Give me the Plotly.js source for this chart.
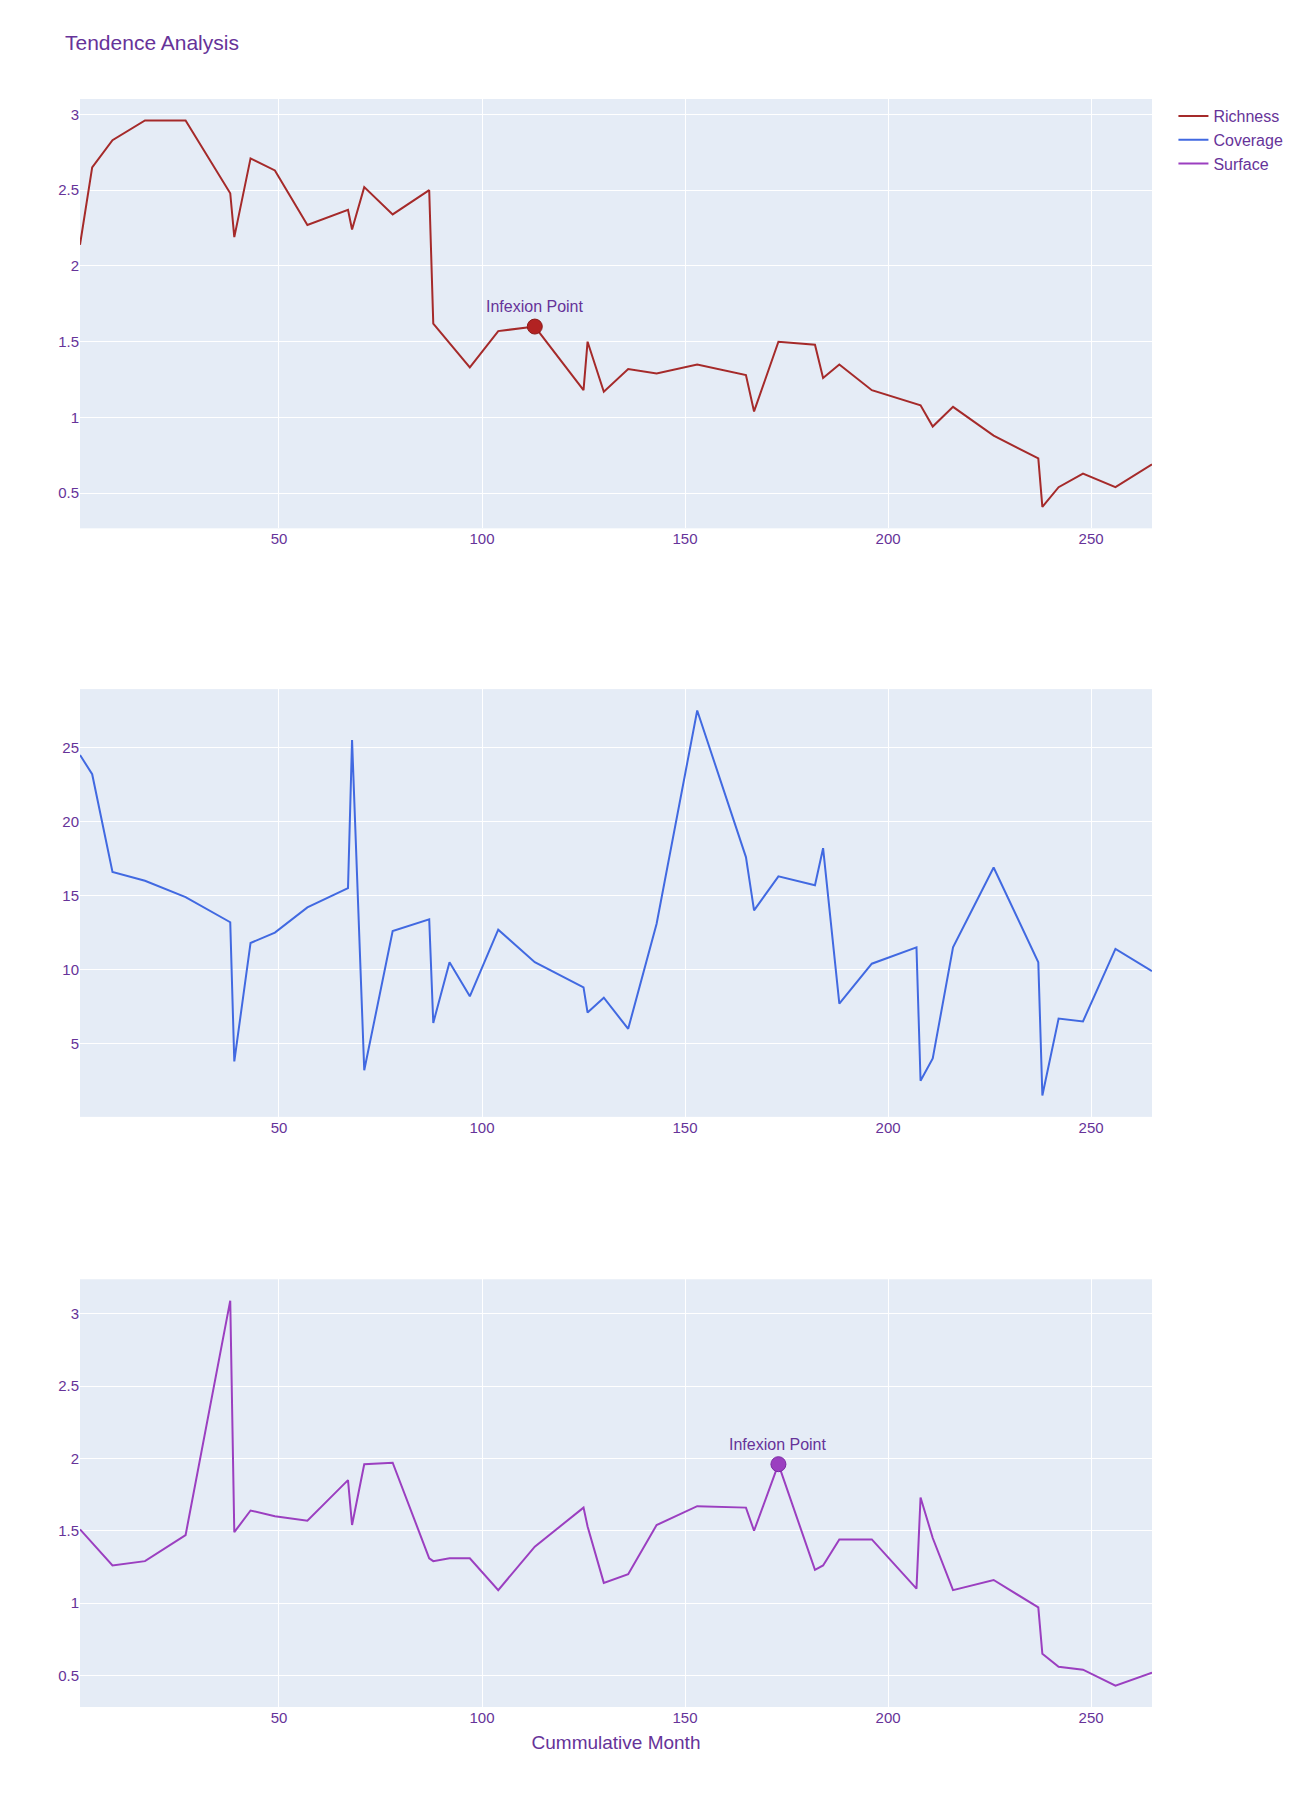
<!DOCTYPE html>
<html>
<head>
<meta charset="utf-8">
<script src="https://cdn.plot.ly/plotly-3.0.1.min.js"></script>
<style>body{margin:0;}</style>
</head>
<body>
<div id="graph" style="width:1300px;height:1800px;"></div>
<script>
// values
var richnessX = [1,4,9,17,27,38,39,43,49,57,67,68,71,78,87,88,97,104,113,125,126,130,136,143,153,165,167,173,182,184,188,196,208,211,216,226,237,238,242,248,256,265];
var richnessY = [2.14,2.65,2.83,2.96,2.96,2.48,2.19,2.71,2.63,2.27,2.37,2.24,2.52,2.34,2.50,1.62,1.33,1.57,1.60,1.18,1.50,1.17,1.32,1.29,1.35,1.28,1.04,1.50,1.48,1.26,1.35,1.18,1.08,0.94,1.07,0.88,0.73,0.41,0.54,0.63,0.54,0.69];

var coverageX = [1,4,9,17,27,38,39,43,49,57,67,68,71,78,87,88,92,97,104,113,125,126,130,136,143,153,165,167,173,182,184,188,196,207,208,211,216,226,237,238,242,248,256,265];
var coverageY = [24.5,23.2,16.6,16.0,14.9,13.2,3.8,11.8,12.5,14.2,15.5,25.5,3.2,12.6,13.4,6.4,10.5,8.2,12.7,10.5,8.8,7.1,8.1,6.0,13.1,27.5,17.6,14.0,16.3,15.7,18.2,7.7,10.4,11.5,2.5,4.0,11.5,16.9,10.5,1.5,6.7,6.5,11.4,9.9];

var surfaceX = [1,9,17,27,38,39,43,49,57,67,68,71,78,87,88,92,97,104,113,125,126,130,136,143,153,165,167,173,182,184,188,196,207,208,211,216,226,237,238,242,248,256,265];
var surfaceY = [1.51,1.26,1.29,1.47,3.09,1.49,1.64,1.60,1.57,1.85,1.54,1.96,1.97,1.31,1.29,1.31,1.31,1.09,1.39,1.66,1.53,1.14,1.20,1.54,1.67,1.66,1.50,1.96,1.23,1.26,1.44,1.44,1.10,1.73,1.45,1.09,1.16,0.97,0.65,0.56,0.54,0.43,0.52];

var infexionTop = {x: 113, y: 1.60};
var infexionBottom = {x: 173, y: 1.96};

var purple = "#663399";

var data = [
    {x: richnessX, y: richnessY, name: 'Richness', type: 'scatter', mode: 'lines',
        line: {color: '#a52a2a', width: 2}, xaxis: 'x', yaxis: 'y'},
    {x: coverageX, y: coverageY, name: 'Coverage', type: 'scatter', mode: 'lines',
        line: {color: '#4169e1', width: 2}, xaxis: 'x2', yaxis: 'y2'},
    {x: surfaceX, y: surfaceY, name: 'Surface', type: 'scatter', mode: 'lines',
        line: {color: '#9b3fc0', width: 2}, xaxis: 'x3', yaxis: 'y3'},
    {x: [infexionTop.x], y: [infexionTop.y], type: 'scatter', mode: 'markers', showlegend: false,
        marker: {color: '#b22222', size: 15, line: {color: '#8b1a1a', width: 1}}, xaxis: 'x', yaxis: 'y'},
    {x: [infexionBottom.x], y: [infexionBottom.y], type: 'scatter', mode: 'markers', showlegend: false,
        marker: {color: '#9b3fc0', size: 15, line: {color: '#7a28a3', width: 1}}, xaxis: 'x3', yaxis: 'y3'}
];

var axisFont = {color: purple, size: 15};
var layout = {
    title: {text: 'Tendence Analysis', x: 0.05, font: {size: 21, color: purple}},
    font: {family: 'Arial, Liberation Sans, sans-serif', color: purple},
    margin: {l: 80, r: 146, t: 99, b: 93},
    plot_bgcolor: '#e5ecf6',
    paper_bgcolor: '#ffffff',
    legend: {x: 1.02, y: 1, font: {size: 16, color: purple}},
    xaxis: {domain: [0, 1], anchor: 'y', tickfont: axisFont, gridcolor: '#fff'},
    yaxis: {domain: [0.733, 1], anchor: 'x', tickfont: axisFont, gridcolor: '#fff', zeroline: false},
    xaxis2: {domain: [0, 1], anchor: 'y2', tickfont: axisFont, gridcolor: '#fff'},
    yaxis2: {domain: [0.367, 0.633], anchor: 'x2', tickfont: axisFont, gridcolor: '#fff', zeroline: false},
    xaxis3: {domain: [0, 1], anchor: 'y3', tickfont: axisFont, gridcolor: '#fff',
        title: {text: 'Cummulative Month', font: {size: 19, color: purple}, standoff: 10}},
    yaxis3: {domain: [0, 0.266], anchor: 'x3', tickfont: axisFont, gridcolor: '#fff', zeroline: false},
    annotations: [
        {x: infexionTop.x, y: infexionTop.y, xref: 'x', yref: 'y', text: 'Infexion Point',
            showarrow: false, yshift: 20, font: {size: 16, color: purple}},
        {x: infexionBottom.x, y: infexionBottom.y, xref: 'x3', yref: 'y3', text: 'Infexion Point',
            showarrow: false, yshift: 20, font: {size: 16, color: purple}}
    ]
};

Plotly.newPlot('graph', data, layout, {displayModeBar: false});
</script>
</body>
</html>
